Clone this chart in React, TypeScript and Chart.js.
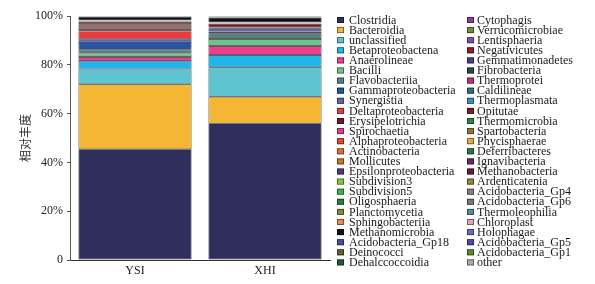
import React, { useEffect, useRef } from "react";
import { Chart, registerables } from "chart.js";

Chart.register(...registerables);

const categories = ["YSI", "XHI"];

const taxa = [
  "Clostridia", "Bacteroidia", "unclassified", "Betaproteobactena", "Anaerolineae",
  "Bacilli", "Flavobacteriia", "Gammaproteobacteria", "Synergistia", "Deltaproteobacteria",
  "Erysipelotrichia", "Spirochaetia", "Alphaproteobacteria", "Actinobacteria", "Mollicutes",
  "Epsilonproteobacteria", "Subdivision3", "Subdivision5", "Oligosphaeria", "Planctomycetia",
  "Sphingobacteriia", "Methanomicrobia", "Acidobacteria_Gp18", "Deinococci", "Dehalccoccoidia",
  "Cytophagis", "Verrucomicrobiae", "Lentisphaeria", "Negativicutes", "Gemmatimonadetes",
  "Fibrobacteria", "Thermoprotei", "Caldilineae", "Thermoplasmata", "Opitutae",
  "Thermomicrobia", "Spartobacteria", "Phycisphaerae", "Deferribacteres", "Ignavibacteria",
  "Methanobacteria", "Ardenticatenia", "Acidobacteria_Gp4", "Acidobacteria_Gp6", "Thermoleophilia",
  "Chloroplast", "Holophagae", "Acidobacteria_Gp5", "Acidobacteria_Gp1", "other",
];

const ysiValues = [
  45.4, 26.6, 6.1, 3.5, 1.6,
  1.4, 1.6, 3.1, 1.4, 3.1,
  1.0, 0.8, 0.8, 0.7, 0.6,
  0.15, 0.1, 0.08, 0.06, 0.06,
  0.06, 1.5, 0.01, 0.01, 0.01,
  0.01, 0.01, 0.01, 0.01, 0.01,
  0.01, 0.01, 0.01, 0.01, 0.01,
  0.01, 0.01, 0.01, 0.01, 0.01,
  0.01, 0.01, 0.01, 0.01, 0.01,
  0.01, 0.01, 0.01, 0.01, 0.02,
];

const xhiValues = [
  56.0, 10.9, 12.1, 5.0, 3.7,
  2.9, 2.3, 0.7, 1.4, 0.3,
  1.5, 0.1, 0.1, 0.08, 0.06,
  0.06, 0.04, 0.04, 0.04, 0.04,
  0.04, 2.0, 0.02, 0.02, 0.02,
  0.02, 0.02, 0.02, 0.02, 0.02,
  0.02, 0.02, 0.02, 0.02, 0.02,
  0.02, 0.02, 0.02, 0.02, 0.02,
  0.02, 0.02, 0.02, 0.02, 0.02,
  0.02, 0.02, 0.02, 0.02, 0.05,
];

const colors = [
  "#2E2F5C", "#F5B535", "#5EC4CF", "#22B5E9", "#EE3E8E",
  "#6DC28E", "#5B7F7D", "#2255A5", "#6064AC", "#EC3A3C",
  "#6E1A1F", "#D8438F", "#E8452F", "#E96D2B", "#C07A2B",
  "#4B3A8A", "#8CC63F", "#3AB54A", "#2E7D3E", "#808A3A",
  "#EE8C4A", "#111111", "#4B4C9A", "#6B5B2E", "#1E5A35",
  "#8B3C8E", "#6C8E3C", "#8C4BA8", "#8E1F2A", "#4B3C8E",
  "#2A4A3A", "#C0306B", "#2E6E82", "#3B8AD8", "#7A1A2A",
  "#2E8A3A", "#8A7A3A", "#E8A83A", "#2A7A3A", "#6A2A6A",
  "#6A1A3A", "#8A8A3A", "#8A7A8A", "#7A7A7A", "#5A8A9A",
  "#E8A0B0", "#6A6AC8", "#4A4AA8", "#5A8A2A", "#AAAAAA",
];

const yTickLabels = ["0", "20%", "40%", "60%", "80%", "100%"];
const yAxisTitle = "相对丰度";

const serif = '"Liberation Serif", "Times New Roman", serif';

const legendPlugin = {
  id: "twoColLegend",
  afterDraw(chart: any) {
    const ctx = chart.ctx;
    const ds = chart.data.datasets;
    const perCol = Math.ceil(ds.length / 2);
    ctx.save();
    ctx.font = `12px ${serif}`;
    ctx.textBaseline = "middle";
    ctx.textAlign = "left";
    ds.forEach((d: any, i: number) => {
      const col = Math.floor(i / perCol);
      const row = i % perCol;
      const bx = col === 0 ? 329 : 459;
      const tx = col === 0 ? 341 : 469;
      const cy = 12 + row * 10.1;
      ctx.fillStyle = d.backgroundColor;
      ctx.fillRect(bx, cy - 3, 7, 6);
      ctx.strokeStyle = "rgba(0,0,0,0.55)";
      ctx.lineWidth = 0.8;
      ctx.strokeRect(bx + 0.4, cy - 3 + 0.4, 6.2, 5.2);
      ctx.fillStyle = "#1a1a1a";
      ctx.fillText(d.label, tx, cy + 0.5);
    });
    ctx.restore();
  },
};

export default function App() {
  const ref = useRef<HTMLCanvasElement | null>(null);

  useEffect(() => {
    if (!ref.current) return;
    const datasets = taxa.map((t, i) => ({
      label: t,
      data: [ysiValues[i], xhiValues[i]],
      backgroundColor: colors[i],
      borderColor: "#1c1c1c",
      borderWidth: 0.7,
      borderSkipped: false as any,
      categoryPercentage: 0.87,
      barPercentage: 1,
    }));
    const chart = new Chart(ref.current, {
      type: "bar",
      data: { labels: categories, datasets },
      options: {
        animation: false,
        responsive: false,
        layout: { padding: { top: 5, right: 257, bottom: 4, left: 0 } },
        plugins: {
          legend: { display: false },
          tooltip: { enabled: false },
        },
        scales: {
          x: {
            stacked: true,
            grid: { display: false, drawTicks: false },
            border: { display: true, color: "#333", width: 1 },
            ticks: { color: "#222", font: { size: 12, family: serif }, padding: 4 },
            afterFit: (s: any) => { s.height = 20; },
          },
          y: {
            stacked: true,
            min: 0,
            max: 100,
            grid: { drawOnChartArea: false, drawTicks: true, tickLength: 3, color: "#555" },
            border: { display: true, color: "#555", width: 1 },
            ticks: {
              stepSize: 20,
              color: "#222",
              font: { size: 12, family: serif },
              padding: 4,
              callback: (v: any) => yTickLabels[Math.round(Number(v) / 20)],
            },
            title: {
              display: true,
              text: yAxisTitle,
              color: "#333",
              font: { size: 12, family: '"Noto Sans CJK SC", sans-serif' },
              padding: { top: 10, bottom: 0 },
            },
            afterFit: (s: any) => {
              s.width = 62;
              s.paddingTop = 8;
              s.paddingBottom = 7;
            },
          },
        },
      },
      plugins: [legendPlugin],
    });
    return () => chart.destroy();
  }, []);

  return <canvas ref={ref} width={579} height={276} />;
}
